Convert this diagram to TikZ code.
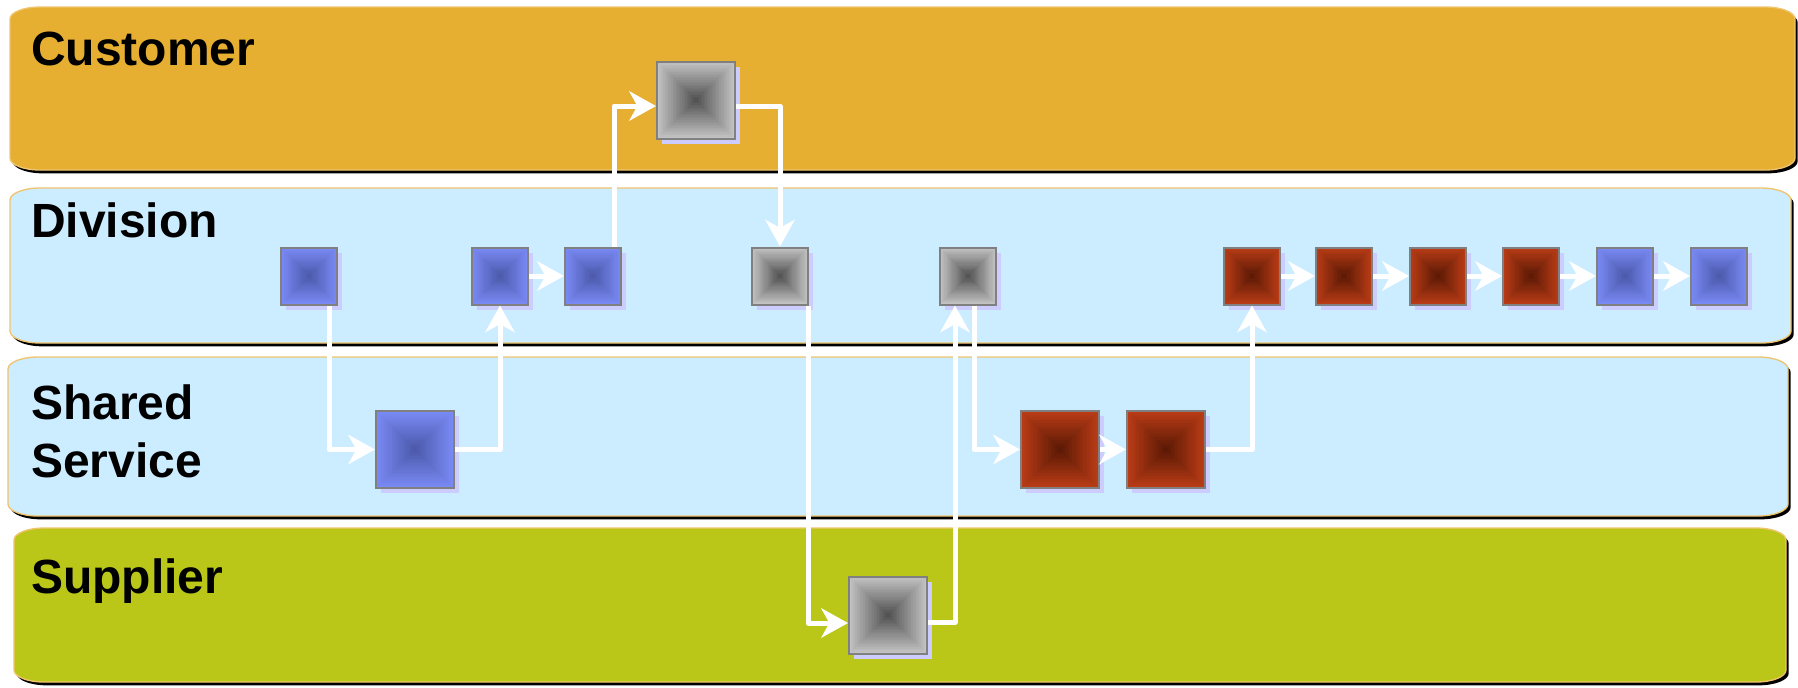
\documentclass[tikz,border=0pt]{standalone}
\usepackage{fontspec}
\setmainfont{Liberation Sans}
\usetikzlibrary{calc,arrows.meta,shadows}
\definecolor{custc}{RGB}{230,175,50}
\definecolor{divc}{RGB}{204,236,255}
\definecolor{supc}{RGB}{186,199,24}
\definecolor{laneline}{RGB}{240,196,110}
\definecolor{boxline}{RGB}{128,128,128}
\definecolor{shadowc}{RGB}{204,204,255}
\definecolor{blueout}{RGB}{122,138,245}
\definecolor{bluein}{RGB}{74,88,168}
\definecolor{grayout}{RGB}{195,195,195}
\definecolor{grayin}{RGB}{78,78,78}
\definecolor{redout}{RGB}{186,60,22}
\definecolor{redin}{RGB}{88,24,4}
\newcommand\lanecmd[5]{%
  \path[fill=black,xshift=2pt,yshift=-2.5pt] ({#1+30},#2) -- ({#3-30},#2) arc[start angle=-90,end angle=0,x radius=30,y radius=12] -- (#3,{#4-12}) arc[start angle=0,end angle=90,x radius=30,y radius=12] -- ({#1+30},#4) arc[start angle=90,end angle=180,x radius=30,y radius=12] -- (#1,{#2+12}) arc[start angle=180,end angle=270,x radius=30,y radius=12] -- cycle;
  \path[fill=#5,draw=laneline,line width=1pt] ({#1+30},#2) -- ({#3-30},#2) arc[start angle=-90,end angle=0,x radius=30,y radius=12] -- (#3,{#4-12}) arc[start angle=0,end angle=90,x radius=30,y radius=12] -- ({#1+30},#4) arc[start angle=90,end angle=180,x radius=30,y radius=12] -- (#1,{#2+12}) arc[start angle=180,end angle=270,x radius=30,y radius=12] -- cycle;
}
\tikzset{
  pyrfill/.style 2 args={path picture={
    \foreach \i in {0,...,24}{
      \pgfmathtruncatemacro\f{\i*4}
      \pgfmathsetmacro\g{\i/50}
      \fill[#2!\f!#1] ($(path picture bounding box.south west)!\g!(path picture bounding box.north east)$) rectangle ($(path picture bounding box.north east)!\g!(path picture bounding box.south west)$);
    }}},
  boxbase/.style={draw=boxline, line width=1.5pt, inner sep=0pt,
    drop shadow={shadow xshift=4pt, shadow yshift=-4pt, fill=shadowc, opacity=1, draw=none}},
  small/.style={boxbase, minimum width=42pt, minimum height=42.75pt},
  large/.style={boxbase, minimum width=58.5pt, minimum height=57.75pt},
  bluebox/.style={pyrfill={blueout}{bluein}},
  graybox/.style={pyrfill={grayout}{grayin}},
  redbox/.style={pyrfill={redout}{redin}},
  flow/.style={draw=white, line width=3.75pt, line join=round,
    -{Stealth[length=20pt,width=22pt,inset=6pt]}},
  lanelabel/.style={font=\fontsize{36pt}{43.5pt}\selectfont\bfseries, inner sep=0pt, align=left}
}
\begin{document}
\begin{tikzpicture}[x=0.75pt,y=-0.75pt]
\useasboundingbox (0,0) rectangle (1798,687);
\fill[white] (0,0) rectangle (1798,687);
% lanes
\lanecmd{10}{7}{1795}{170}{custc}
\lanecmd{10}{188}{1791}{343}{divc}
\lanecmd{8}{357}{1788}{516}{divc}
\lanecmd{14}{528}{1786}{682}{supc}
% labels
\node[lanelabel, anchor=base west] (lcust) at (31,65) {Customer};
\node[lanelabel, anchor=base west] (ldiv) at (31,237) {Division};
\node[lanelabel, anchor=north west] (lshared) at (31,384) {Shared\\Service};
\node[lanelabel, anchor=base west] (lsup) at (31,593) {Supplier};
% boxes
\node[large, graybox] (c1) at (696,100) {};
\node[small, bluebox] (d1) at (309,276) {};
\node[small, bluebox] (d2) at (500,276) {};
\node[small, bluebox] (d3) at (593,276) {};
\node[small, graybox] (d4) at (780,276) {};
\node[small, graybox] (d5) at (968,276) {};
\node[small, redbox] (d6) at (1252,276) {};
\node[small, redbox] (d7) at (1344,276) {};
\node[small, redbox] (d8) at (1438,276) {};
\node[small, redbox] (d9) at (1531,276) {};
\node[small, bluebox] (d10) at (1625,276) {};
\node[small, bluebox] (d11) at (1719,276) {};
\node[large, bluebox] (s1) at (415,449.5) {};
\node[large, redbox] (s2) at (1060,449.5) {};
\node[large, redbox] (s3) at (1166,449.5) {};
\node[large, graybox] (p1) at (888,615) {};
% connectors
\draw[flow] ($(d1.south)+(20,0)$) |- (s1.west);
\draw[flow] (s1.east) -| (d2.south);
\draw[flow] (d2.east) -- (d3.west);
\draw[flow] ($(d3.north)+(21,0)$) |- ($(c1.west)+(0,6)$);
\draw[flow] ($(c1.east)+(0,6)$) -| (d4.north);
\draw[flow] ($(d4.south)+(28,0)$) |- ($(p1.west)+(0,8)$);
\draw[flow] ($(p1.east)+(0,7)$) -| ($(d5.south)+(-13,0)$);
\draw[flow] ($(d5.south)+(6,0)$) |- (s2.west);
\draw[flow] (s2.east) -- (s3.west);
\draw[flow] (s3.east) -| (d6.south);
\draw[flow] (d6.east) -- (d7.west);
\draw[flow] (d7.east) -- (d8.west);
\draw[flow] (d8.east) -- (d9.west);
\draw[flow] (d9.east) -- (d10.west);
\draw[flow] (d10.east) -- (d11.west);
\end{tikzpicture}
\end{document}
